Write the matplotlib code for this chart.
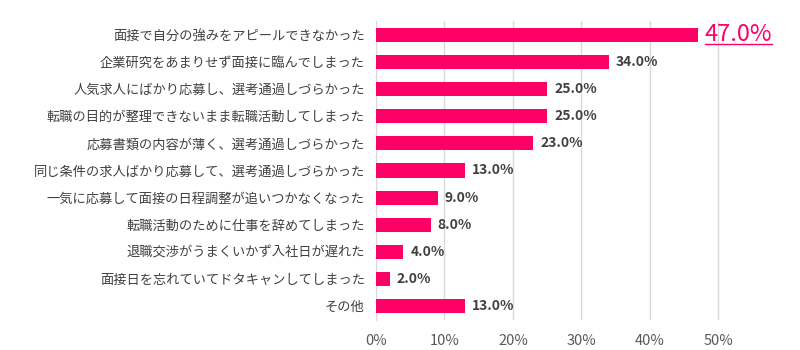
import matplotlib
matplotlib.use("Agg")
import matplotlib.pyplot as plt
from matplotlib.lines import Line2D

plt.rcParams['font.family'] = ['Noto Sans CJK JP', 'DejaVu Sans']

categories = [
    "面接で自分の強みをアピールできなかった",
    "企業研究をあまりせず面接に臨んでしまった",
    "人気求人にばかり応募し、選考通過しづらかった",
    "転職の目的が整理できないまま転職活動してしまった",
    "応募書類の内容が薄く、選考通過しづらかった",
    "同じ条件の求人ばかり応募して、選考通過しづらかった",
    "一気に応募して面接の日程調整が追いつかなくなった",
    "転職活動のために仕事を辞めてしまった",
    "退職交渉がうまくいかず入社日が遅れた",
    "面接日を忘れていてドタキャンしてしまった",
    "その他",
]
values = [47.0, 34.0, 25.0, 25.0, 23.0, 13.0, 9.0, 8.0, 4.0, 2.0, 13.0]
xticks = [0, 10, 20, 30, 40, 50]

pink = "#FF0066"
fig = plt.figure(figsize=(8, 3.5), dpi=100)
ax = fig.add_axes([0.47, 0.086, 0.515, 0.854])

ypos = list(range(len(categories)))
ax.barh(ypos, values, height=0.52, color=pink, zorder=3)
ax.set_ylim(len(categories) - 0.5, -0.5)
ax.set_xlim(0, 60.2)
ax.set_yticks(ypos)
ax.set_yticklabels(categories, fontsize=9.5, color="#404040")
ax.set_xticks(xticks)
ax.set_xticklabels([f"{t}%" for t in xticks], fontsize=10.5, color="#595959")
ax.tick_params(length=0, pad=10)
ax.tick_params(axis='y', pad=8)
ax.grid(axis='x', color="#d9d9d9", linewidth=1, zorder=0)
for s in ['top', 'right', 'bottom']:
    ax.spines[s].set_visible(False)
ax.spines['left'].set_color("#d9d9d9")

big = None
for i, v in enumerate(values):
    if i == 0:
        big = ax.annotate(f"{v:.1f}%", (v, i), xytext=(5, 0), textcoords="offset points",
                          va="center", ha="left", fontsize=17, color=pink)
    else:
        ax.annotate(f"{v:.1f}%", (v, i), xytext=(5, 0), textcoords="offset points",
                    va="center", ha="left", fontsize=10, fontweight="bold", color="#404040")

fig.canvas.draw()
bb = big.get_window_extent().transformed(fig.transFigure.inverted())
fig.add_artist(Line2D([bb.x0, bb.x1], [bb.y0 + 0.005, bb.y0 + 0.005],
                      transform=fig.transFigure, color=pink, linewidth=1))

fig.savefig("out.png", dpi=100)
